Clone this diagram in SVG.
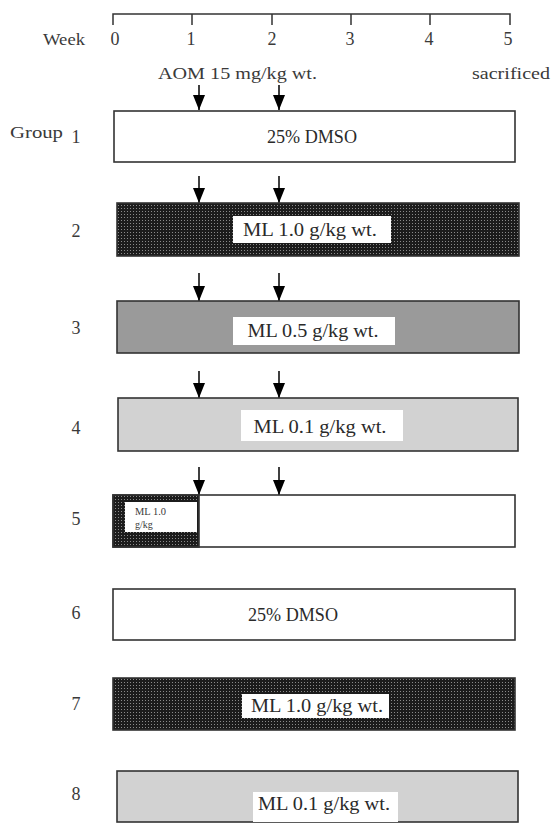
<svg xmlns="http://www.w3.org/2000/svg" width="558" height="823" viewBox="0 0 558 823">
<style>
text{font-family:"Liberation Serif","DejaVu Serif",serif;fill:#3a3a3a;}
.t{font-size:17px;}
.n{font-size:18px;text-anchor:middle;}
.c{font-size:18px;text-anchor:middle;fill:#2a2a2a;}
.box{stroke:#333;stroke-width:1.6;}
.lbl{fill:#fff;stroke:none;}
.ax{stroke:#333;stroke-width:1.5;fill:none;}
.arr{stroke:#000;stroke-width:1.5;}
</style>
<defs>
<pattern id="dots" width="3" height="3" patternUnits="userSpaceOnUse">
<rect width="3" height="3" fill="#1c1c1c"/>
<rect x="1" y="1" width="1" height="1" fill="#8a8a8a"/>
</pattern>
<marker id="ah" viewBox="0 0 15 12" refX="15" refY="6" markerWidth="15" markerHeight="12" markerUnits="userSpaceOnUse" orient="auto">
<path d="M0,0 L15,6 L0,12 Z" fill="#000"/>
</marker>
</defs>
<g id="axis">
<path class="ax" d="M113,25 V14 H510 V25 M192,14 V25 M272,14 V25 M351,14 V25 M430,14 V25"/>
<text class="t" x="43" y="45" textLength="42" lengthAdjust="spacingAndGlyphs">Week</text>
<text class="n" x="115" y="45">0</text>
<text class="n" x="191" y="45">1</text>
<text class="n" x="272" y="45">2</text>
<text class="n" x="350" y="45">3</text>
<text class="n" x="429" y="45">4</text>
<text class="n" x="508" y="45">5</text>
<text class="t" x="158" y="79" textLength="159" lengthAdjust="spacingAndGlyphs">AOM 15 mg/kg wt.</text>
<text class="t" x="472" y="79" textLength="78" lengthAdjust="spacingAndGlyphs">sacrificed</text>
</g>
<g id="connectors">
<g marker-end="url(#ah)" class="arr">
<line x1="199" y1="85" x2="199" y2="110"/>
<line x1="279" y1="85" x2="279" y2="110"/>
<line x1="199" y1="176" x2="199" y2="203"/>
<line x1="279" y1="176" x2="279" y2="203"/>
<line x1="199" y1="273" x2="199" y2="301"/>
<line x1="279" y1="273" x2="279" y2="301"/>
<line x1="199" y1="371" x2="199" y2="398"/>
<line x1="279" y1="371" x2="279" y2="398"/>
<line x1="199" y1="467" x2="199" y2="495"/>
<line x1="279" y1="467" x2="279" y2="495"/>
</g>
</g>
<g id="group1">
<text class="t" x="10" y="138" textLength="53" lengthAdjust="spacingAndGlyphs">Group</text>
<text class="n" x="76" y="143">1</text>
<rect class="box" x="114" y="111" width="401" height="51" fill="#fff"/>
<text class="c" x="312" y="143" textLength="90" lengthAdjust="spacingAndGlyphs">25% DMSO</text>
</g>
<g id="group2">
<text class="n" x="76" y="237">2</text>
<rect class="box" x="117" y="203" width="402" height="53" fill="url(#dots)"/>
<rect class="lbl" x="233" y="216" width="158" height="27"/>
<text class="c" x="310" y="236" textLength="134" lengthAdjust="spacingAndGlyphs">ML 1.0 g/kg wt.</text>
</g>
<g id="group3">
<text class="n" x="76" y="334">3</text>
<rect class="box" x="117" y="301" width="402" height="52" fill="#9a9a9a"/>
<rect class="lbl" x="233" y="317" width="162" height="28"/>
<text class="c" x="313" y="337" textLength="131" lengthAdjust="spacingAndGlyphs">ML 0.5 g/kg wt.</text>
</g>
<g id="group4">
<text class="n" x="76" y="434">4</text>
<rect class="box" x="118" y="398" width="400" height="53" fill="#d2d2d2"/>
<rect class="lbl" x="241" y="410" width="162" height="31"/>
<text class="c" x="320" y="433" textLength="133" lengthAdjust="spacingAndGlyphs">ML 0.1 g/kg wt.</text>
</g>
<g id="group5">
<text class="n" x="76" y="525">5</text>
<rect class="box" x="113" y="495" width="402" height="52" fill="#fff"/>
<rect x="113" y="495" width="86" height="52" fill="url(#dots)" stroke="#333" stroke-width="1.6"/>
<rect class="lbl" x="125" y="502" width="72" height="30"/>
<text x="135" y="515" style="font-size:10px" textLength="31" lengthAdjust="spacingAndGlyphs">ML 1.0</text>
<text x="135" y="528" style="font-size:10px">g/kg</text>
</g>
<g id="group6">
<text class="n" x="76" y="619">6</text>
<rect class="box" x="113" y="589" width="402" height="51" fill="#fff"/>
<text class="c" x="293" y="621" textLength="90" lengthAdjust="spacingAndGlyphs">25% DMSO</text>
</g>
<g id="group7">
<text class="n" x="76" y="710">7</text>
<rect class="box" x="113" y="678" width="402" height="52" fill="url(#dots)"/>
<rect class="lbl" x="242" y="694" width="147" height="24"/>
<text class="c" x="317" y="712" textLength="132" lengthAdjust="spacingAndGlyphs">ML 1.0 g/kg wt.</text>
</g>
<g id="group8">
<text class="n" x="76" y="800">8</text>
<rect class="box" x="117" y="771" width="401" height="51" fill="#d2d2d2"/>
<rect class="lbl" x="253" y="792" width="145" height="30"/>
<text class="c" x="324" y="810" textLength="132" lengthAdjust="spacingAndGlyphs">ML 0.1 g/kg wt.</text>
</g>
</svg>
